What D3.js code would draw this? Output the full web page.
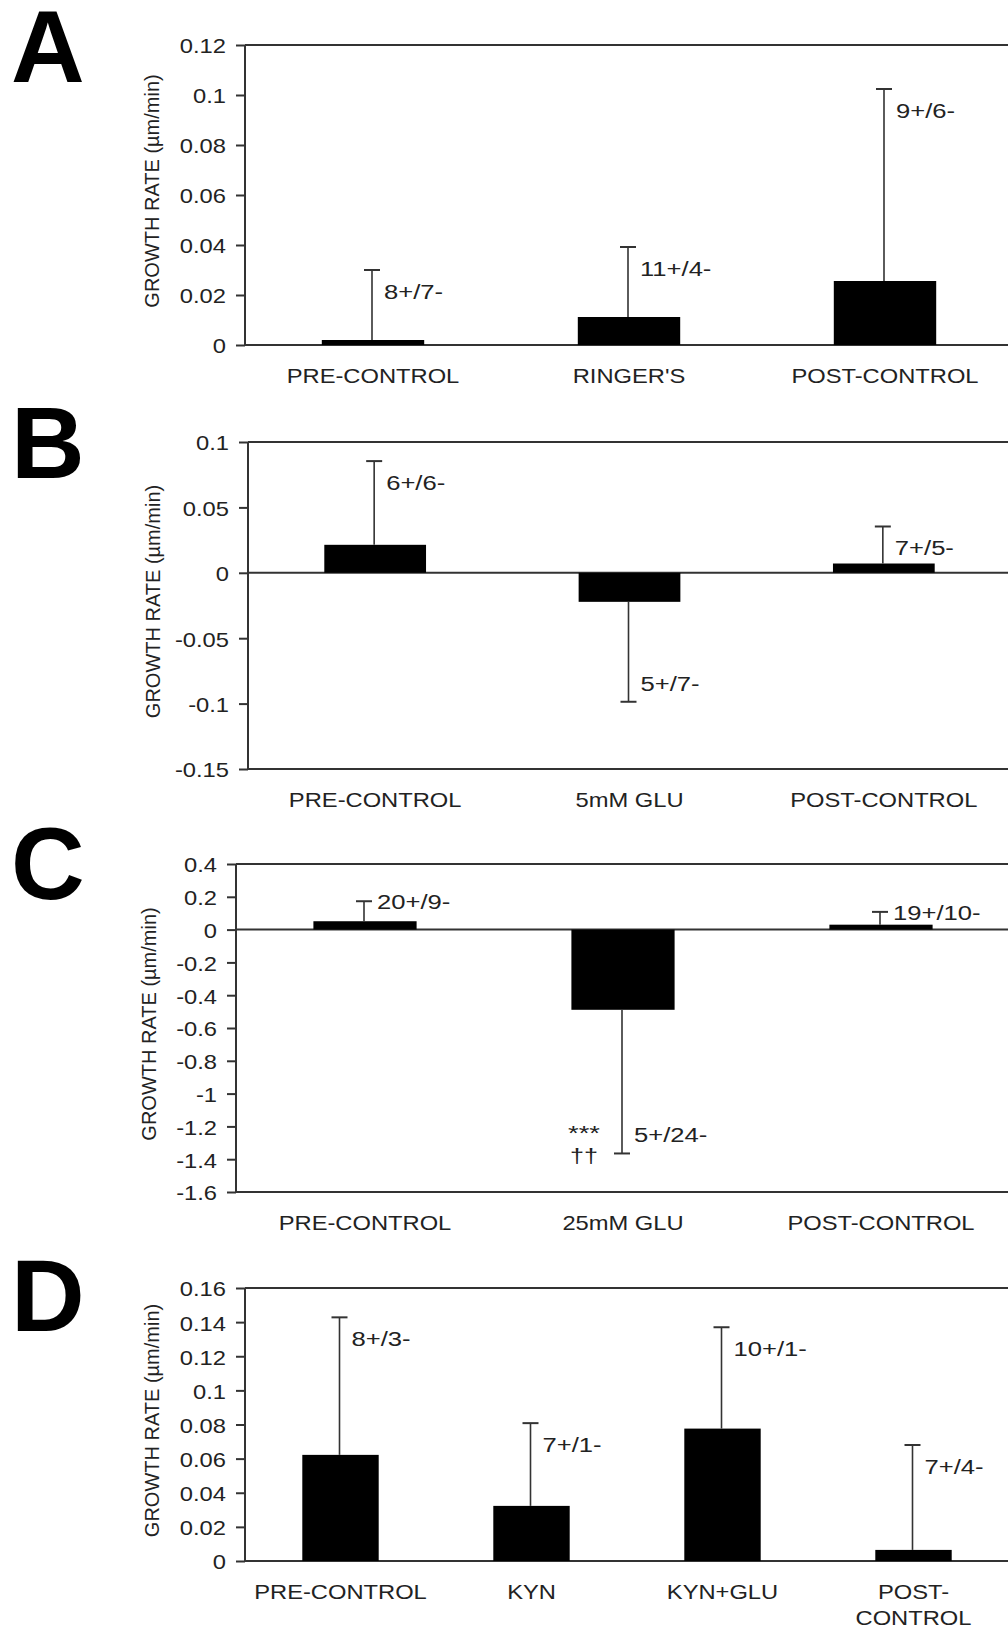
<!DOCTYPE html>
<html>
<head>
<meta charset="utf-8">
<script src="https://cdn.jsdelivr.net/npm/d3@7"></script>
<style>
  body { margin: 0; background: #fff; }
  text { font-family: "Liberation Sans", Arial, sans-serif; fill: #222; }
</style>
</head>
<body>
<div id="app"></div>
<script>
// ---- data ----
const catsA = ["PRE-CONTROL", "RINGER'S", "POST-CONTROL"];
const meansA = [0.002, 0.0112, 0.0256];
const errsA = [0.028, 0.028, 0.0768];
const nsA = ["8+/7-", "11+/4-", "9+/6-"];
const ticksA = ["0", "0.02", "0.04", "0.06", "0.08", "0.1", "0.12"];

const catsB = ["PRE-CONTROL", "5mM GLU", "POST-CONTROL"];
const meansB = [0.0214, -0.0222, 0.0071];
const errsB = [0.064, 0.0764, 0.0283];
const nsB = ["6+/6-", "5+/7-", "7+/5-"];
const ticksB = ["-0.15", "-0.1", "-0.05", "0", "0.05", "0.1"];

const catsC = ["PRE-CONTROL", "25mM GLU", "POST-CONTROL"];
const meansC = [0.051, -0.489, 0.03];
const errsC = [0.122, 0.876, 0.078];
const nsC = ["20+/9-", "5+/24-", "19+/10-"];
const sigC = ["", "***|††", ""];
const ticksC = ["-1.6", "-1.4", "-1.2", "-1", "-0.8", "-0.6", "-0.4", "-0.2", "0", "0.2", "0.4"];

const catsD = ["PRE-CONTROL", "KYN", "KYN+GLU", "POST-|CONTROL"];
const meansD = [0.0622, 0.0323, 0.0776, 0.0065];
const errsD = [0.0806, 0.0485, 0.0594, 0.0615];
const nsD = ["8+/3-", "7+/1-", "10+/1-", "7+/4-"];
const ticksD = ["0", "0.02", "0.04", "0.06", "0.08", "0.1", "0.12", "0.14", "0.16"];

const yTitle = "GROWTH RATE (\u00b5m/min)";

// ---- layout ----
const W = 1008, H = 1631;
const panels = [
  { letter: "A", cats: catsA, means: meansA, errs: errsA, ns: nsA, sig: [], ticks: ticksA,
    left: 245, right: 1013, top: 45, bottom: 345, letterY: 82, titleX: 159 },
  { letter: "B", cats: catsB, means: meansB, errs: errsB, ns: nsB, sig: [], ticks: ticksB,
    left: 248, right: 1011, top: 442, bottom: 769, letterY: 478, titleX: 160 },
  { letter: "C", cats: catsC, means: meansC, errs: errsC, ns: nsC, sig: sigC, ticks: ticksC,
    left: 236, right: 1010, top: 864, bottom: 1192, letterY: 899, titleX: 156 },
  { letter: "D", cats: catsD, means: meansD, errs: errsD, ns: nsD, sig: [], ticks: ticksD,
    left: 245, right: 1009, top: 1288, bottom: 1561, letterY: 1331, titleX: 159 }
];

const svg = d3.select("#app").append("svg")
    .attr("width", W)
    .attr("height", H);

svg.append("rect").attr("width", W).attr("height", H).attr("fill", "#fff");

panels.forEach(drawPanel);

function drawPanel(p) {
  const g = svg.append("g");
  const lo = +p.ticks[0], hi = +p.ticks[p.ticks.length - 1];
  const y = d3.scaleLinear([lo, hi], [p.bottom, p.top]);
  const x = d3.scaleBand(p.cats, [p.left, p.right]).paddingInner(0.6).paddingOuter(0.3);

  // panel letter
  g.append("text")
      .attr("x", 11).attr("y", p.letterY)
      .attr("font-size", 102).attr("font-weight", "bold")
      .style("fill", "#000")
      .text(p.letter);

  // y axis ticks + labels
  const axis = d3.axisLeft(y)
      .tickValues(p.ticks.map(Number))
      .tickFormat((d, i) => p.ticks[i])
      .tickSize(9)
      .tickSizeOuter(0);
  const ax = g.append("g").attr("transform", `translate(${p.left},0)`).call(axis);
  ax.select(".domain").remove();
  ax.selectAll(".tick line").attr("stroke", "#333").attr("stroke-width", 2);
  ax.selectAll(".tick text")
      .attr("x", null).attr("dy", "0.38em")
      .attr("font-size", 21).attr("font-family", null)
      .attr("transform", "translate(-19,0) scale(1.13,1)");

  // frame lines: left, top, bottom, zero
  const lineStyle = sel => sel.attr("stroke", "#333").attr("stroke-width", 2);
  g.append("line").attr("x1", p.left).attr("x2", p.left)
      .attr("y1", y(hi)).attr("y2", y(lo)).call(lineStyle);
  [hi, lo].concat(lo < 0 ? [0] : []).forEach(v => {
    g.append("line").attr("x1", p.left).attr("x2", W + 5)
        .attr("y1", y(v)).attr("y2", y(v)).call(lineStyle);
  });

  // y title
  g.append("text")
      .attr("transform", `translate(${p.titleX},${(p.top + p.bottom) / 2 - 4}) rotate(-90)`)
      .attr("text-anchor", "middle")
      .attr("font-size", 20)
      .text(yTitle);

  // bars
  g.selectAll(".bar").data(p.cats).join("rect")
      .attr("class", "bar")
      .attr("x", d => x(d))
      .attr("width", x.bandwidth())
      .attr("y", (d, i) => Math.min(y(p.means[i]), y(0)))
      .attr("height", (d, i) => Math.abs(y(p.means[i]) - y(0)))
      .attr("fill", "#000");

  // error bars (one-sided, away from zero) and n labels
  p.cats.forEach((c, i) => {
    const m = p.means[i];
    const s = m < 0 ? -1 : 1;
    const cx = x(c) + x.bandwidth() / 2 - 1;
    const y0 = y(m), y1 = y(m + s * p.errs[i]);
    g.append("line").attr("x1", cx).attr("x2", cx).attr("y1", y0).attr("y2", y1)
        .attr("stroke", "#333").attr("stroke-width", 1.6);
    g.append("line").attr("x1", cx - 8).attr("x2", cx + 8).attr("y1", y1).attr("y2", y1)
        .attr("stroke", "#333").attr("stroke-width", 2);

    let lx = cx + 12, ly;
    if (Math.abs(y1 - y0) < 30) { ly = y1 + 8; lx = cx + 13; }
    else if (s > 0) ly = y1 + 29;
    else ly = y1 - 11;
    g.append("text")
        .attr("transform", `translate(${lx},${ly}) scale(1.22,1)`)
        .attr("font-size", 21)
        .text(p.ns[i]);

    if (p.sig[i]) {
      const parts = p.sig[i].split("|");
      g.append("text")
          .attr("transform", `translate(${cx - 38},${y1 - 13}) scale(1.3,1)`)
          .attr("text-anchor", "middle").attr("font-size", 21)
          .text(parts[0]);
      g.append("text")
          .attr("transform", `translate(${cx - 38},${y1 + 10}) scale(1.2,1)`)
          .attr("text-anchor", "middle").attr("font-size", 21)
          .text(parts[1]);
    }
  });

  // category labels
  p.cats.forEach(c => {
    const lines = c.split("|");
    const t = g.append("text")
        .attr("transform", `translate(${x(c) + x.bandwidth() / 2},${p.bottom + 38}) scale(1.13,1)`)
        .attr("text-anchor", "middle")
        .attr("font-size", 21);
    lines.forEach((l, k) => {
      t.append("tspan").attr("x", 0).attr("dy", k === 0 ? 0 : 26).text(l);
    });
  });
}
</script>
</body>
</html>
